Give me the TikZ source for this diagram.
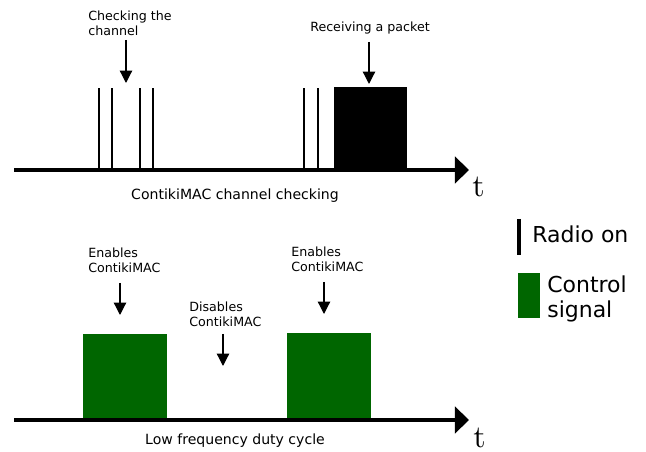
\documentclass[tikz,border=0pt]{standalone}
\usepackage{fontspec}
\setsansfont{DejaVu Sans}
\usetikzlibrary{arrows.meta}

\definecolor{ctrlgreen}{RGB}{0,102,0}

\tikzset{
  timeaxis/.style={line width=2.3pt,-{Triangle[length=8pt,width=15pt]}},
  radio/.style={line width=1.5pt},
  hint/.style={line width=0.7pt,-{Triangle[length=7pt,width=7pt]}},
  lbl/.style={font=\sffamily\fontsize{7.2}{8.8}\selectfont,align=left,inner sep=0pt},
  caption/.style={font=\sffamily\fontsize{8}{9.6}\selectfont,inner sep=0pt},
  tlbl/.style={font=\rmfamily,inner sep=0pt},
  leglbl/.style={font=\sffamily\fontsize{12.5}{14.7}\selectfont,align=left,inner sep=0pt}
}

\begin{document}
\begin{tikzpicture}[x=0.02cm,y=-0.02cm]
  \useasboundingbox (0,0) rectangle (646,452);
  \def\ya{170} \def\yb{420}

  % ContikiMAC channel checking
  \foreach \x in {99,112,140,153,304,318}{
    \draw[radio] (\x,\ya) -- (\x,88);
  }
  \fill (334,\ya) rectangle (407,87);
  \coordinate (ax1s) at (14,\ya);
  \coordinate (ax1e) at (469,\ya);
  \draw[timeaxis] (ax1s) -- (ax1e);
  \node[tlbl,anchor=base west] (t1) at (472,197) {\scalebox{1.8}{t}};
  \node[caption,anchor=base] (cap1) at (235,200) {ContikiMAC channel checking};

  \node[lbl,anchor=base west] (chk) at (88,36) {Checking the\\channel};
  \coordinate (chkA) at (126,40);
  \coordinate (chkB) at (126,83);
  \draw[hint] (chkA) -- (chkB);
  \node[lbl,anchor=base] (rcv) at (370,32) {Receiving a packet};
  \coordinate (rcvA) at (369,42);
  \coordinate (rcvB) at (369,84);
  \draw[hint] (rcvA) -- (rcvB);

  % Low frequency duty cycle
  \fill[ctrlgreen] (83,\yb) rectangle (167,334);
  \fill[ctrlgreen] (287,\yb) rectangle (371,333);
  \coordinate (ax2s) at (14,\yb);
  \coordinate (ax2e) at (469,\yb);
  \draw[timeaxis] (ax2s) -- (ax2e);
  \node[tlbl,anchor=base west] (t2) at (473,448) {\scalebox{1.8}{t}};
  \node[caption,anchor=base] (cap2) at (235,445) {Low frequency duty cycle};

  \node[lbl,anchor=base west] (en1) at (88,273) {Enables\\ContikiMAC};
  \coordinate (en1A) at (120,283);
  \coordinate (en1B) at (120,315);
  \draw[hint] (en1A) -- (en1B);
  \node[lbl,anchor=base west] (dis) at (189,327) {Disables\\ContikiMAC};
  \coordinate (disA) at (223,334);
  \coordinate (disB) at (223,366);
  \draw[hint] (disA) -- (disB);
  \node[lbl,anchor=base west] (en2) at (291,272) {Enables\\ContikiMAC};
  \coordinate (en2A) at (324,282);
  \coordinate (en2B) at (324,314);
  \draw[hint] (en2A) -- (en2B);

  % legend
  \draw[line width=2.2pt] (519,219) -- (519,255);
  \node[leglbl,anchor=base west] (radioon) at (532,243) {Radio on};
  \fill[ctrlgreen] (518,273) rectangle (540,318);
  \node[leglbl,anchor=base west] (ctrl) at (547,318) {Control\\signal};
\end{tikzpicture}
\end{document}
